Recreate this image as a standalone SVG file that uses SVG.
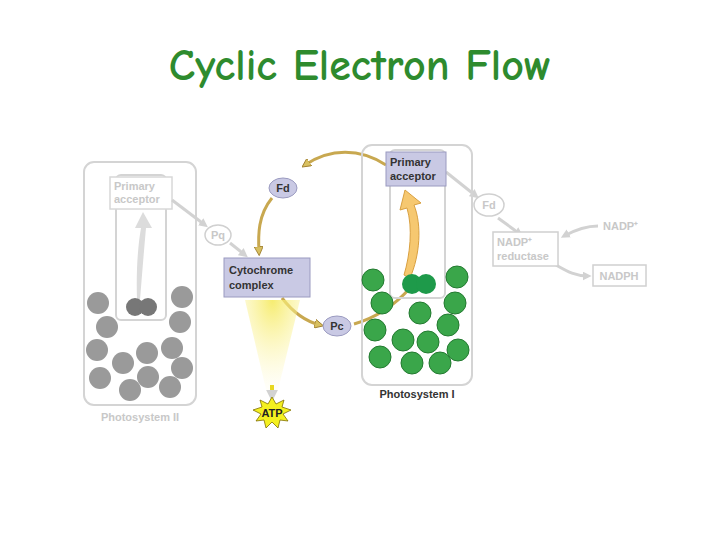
<svg xmlns="http://www.w3.org/2000/svg" width="720" height="540" viewBox="0 0 720 540">
<defs>
<style>
.t{font-family:"Liberation Sans",Arial,sans-serif;font-weight:bold;font-size:11px}
.g{fill:#c8c8c8}
.ps{fill:none;stroke:#d4d4d4;stroke-width:2}
.gc{fill:#9a9a9a}
.grn{fill:#3aa64a;stroke:#237a30;stroke-width:1}
.pb{fill:#c9c9e4;stroke:#9a9ac0}
.fb{fill:#fff;stroke:#d0d0d0;stroke-width:1.5}
.gold{fill:none;stroke:#c8a850;stroke-width:3}
.gl{fill:none;stroke:#d2d2d2;stroke-width:3}
</style>
<marker id="ga" viewBox="0 0 10 10" refX="6" refY="5" markerWidth="3" markerHeight="3" orient="auto"><path d="M0,0L10,5L0,10z" fill="#d8c060" stroke="#a08030"/></marker>
<marker id="gy" viewBox="0 0 10 10" refX="6" refY="5" markerWidth="3" markerHeight="3" orient="auto"><path d="M0,0L10,5L0,10z" fill="#d2d2d2"/></marker>
<radialGradient id="glow" cx="0.5" cy="0" r="1"><stop offset="0" stop-color="#f5ea60" stop-opacity="0.9"/><stop offset="1" stop-color="#fff8c0" stop-opacity="0"/></radialGradient>
</defs>
<rect width="720" height="540" fill="#fff"/>
<text x="360" y="80" text-anchor="middle" font-family="'Comic Neue','Comic Sans MS','Noto Sans',sans-serif" font-weight="bold" font-size="44" fill="#2e8b2e">Cyclic Electron Flow</text>

<g id="psii">
<rect class="ps" x="84" y="162" width="112" height="243" rx="10"/>
<rect class="ps" x="116" y="175" width="50" height="145" rx="5"/>
<rect x="110" y="177" width="62" height="32" fill="#fff" stroke="#d8d8d8" stroke-width="1.5"/>
<text class="t g" x="114" y="190">Primary</text><text class="t g" x="114" y="203">acceptor</text>
<path d="M137,300 C136,270 138,245 141,228 L135,228 L143,212 L152,228 L146,228 C144,250 142,275 140,300z" fill="#dcdcdc"/>
<g class="gc">
<circle cx="98" cy="303" r="11"/><circle cx="107" cy="327" r="11"/><circle cx="97" cy="350" r="11"/><circle cx="100" cy="378" r="11"/><circle cx="123" cy="363" r="11"/><circle cx="130" cy="390" r="11"/><circle cx="147" cy="353" r="11"/><circle cx="148" cy="377" r="11"/><circle cx="170" cy="387" r="11"/><circle cx="172" cy="348" r="11"/><circle cx="182" cy="368" r="11"/><circle cx="180" cy="322" r="11"/><circle cx="182" cy="297" r="11"/>
</g>
<circle cx="135" cy="307" r="9" fill="#777"/><circle cx="148" cy="307" r="9" fill="#777"/>
<text class="t g" x="140" y="421" text-anchor="middle">Photosystem II</text>
</g>

<g id="connectors">
<path class="gl" d="M172,200 L205,225" marker-end="url(#gy)"/>
<path class="gl" d="M230,243 L245,255" marker-end="url(#gy)"/>
<path class="gold" d="M386,165 C360,148 330,148 305,165" marker-end="url(#ga)"/>
<path class="gold" d="M272,198 C258,215 258,235 259,252" marker-end="url(#ga)"/>
<path class="gold" d="M282,298 C295,315 308,322 320,325" marker-end="url(#ga)"/>
<path class="gold" d="M354,324 C375,318 395,305 410,288"/>
<path class="gl" d="M446,172 L476,196" marker-end="url(#gy)"/>
<path class="gl" d="M498,218 L520,234" marker-end="url(#gy)"/>
<path class="gl" d="M598,226 C585,226 575,230 564,236" marker-end="url(#gy)"/>
<path class="gl" d="M556,265 C568,272 576,276 588,276" marker-end="url(#gy)"/>
</g>

<g id="atp">
<path d="M245,300 L300,300 L276,398 L268,398z" fill="url(#glow)"/>
<path d="M272,385 L272,397" stroke="#e8d820" stroke-width="4" marker-end="url(#gy)"/>
<polygon points="272,397 276,404 284,400 282,407 291,410 283,414 288,421 280,420 278,428 272,422 266,428 264,420 256,421 261,414 253,410 262,407 260,400 268,404" fill="#f4f020" stroke="#807000" stroke-width="0.8"/>
<text class="t" x="272" y="417" text-anchor="middle" font-size="10" fill="#222">ATP</text>
</g>

<g id="pq"><ellipse class="fb" cx="218" cy="235" rx="13" ry="10"/><text class="t g" x="218" y="239" text-anchor="middle" font-size="10">Pq</text></g>
<g id="fd1"><ellipse class="pb" cx="283" cy="188" rx="14" ry="10"/><text class="t" x="283" y="192" text-anchor="middle" font-size="10" fill="#333">Fd</text></g>
<g id="cyt"><rect class="pb" x="224" y="258" width="86" height="39"/><text class="t" x="229" y="274" fill="#333">Cytochrome</text><text class="t" x="229" y="289" fill="#333">complex</text></g>
<g id="pc"><ellipse class="pb" cx="337" cy="326" rx="14" ry="10"/><text class="t" x="337" y="330" text-anchor="middle" font-size="10" fill="#333">Pc</text></g>

<g id="psi">
<rect class="ps" x="362" y="145" width="110" height="240" rx="10"/>
<rect class="ps" x="390" y="150" width="55" height="148" rx="5"/>
<rect class="pb" x="386" y="152" width="60" height="34"/>
<text class="t" x="390" y="166" fill="#333">Primary</text><text class="t" x="390" y="180" fill="#333">acceptor</text>
<path d="M410,278 C420,255 422,225 414,205 L421,203 L405,190 L400,210 L407,208 C413,228 410,255 404,275z" fill="#f6c870" stroke="#d9a040" stroke-width="1"/>
<g class="grn">
<circle cx="373" cy="280" r="11"/><circle cx="382" cy="303" r="11"/><circle cx="375" cy="330" r="11"/><circle cx="380" cy="357" r="11"/><circle cx="403" cy="340" r="11"/><circle cx="412" cy="363" r="11"/><circle cx="420" cy="313" r="11"/><circle cx="428" cy="342" r="11"/><circle cx="440" cy="363" r="11"/><circle cx="448" cy="325" r="11"/><circle cx="458" cy="350" r="11"/><circle cx="455" cy="303" r="11"/><circle cx="457" cy="277" r="11"/>
</g>
<circle cx="412" cy="284" r="10" fill="#1e9a4a"/><circle cx="426" cy="284" r="10" fill="#1e9a4a"/>
<text class="t" x="417" y="398" text-anchor="middle" fill="#333">Photosystem I</text>
</g>

<g id="fd2"><ellipse class="fb" cx="489" cy="205" rx="15" ry="11"/><text class="t g" x="489" y="209" text-anchor="middle" font-size="10">Fd</text></g>
<g id="nadpred"><rect class="fb" x="493" y="232" width="65" height="34"/><text class="t g" x="497" y="246">NADP⁺</text><text class="t g" x="497" y="260">reductase</text></g>
<g id="nadp"><text class="t g" x="603" y="230">NADP⁺</text></g>
<g id="nadph"><rect class="fb" x="593" y="265" width="53" height="21"/><text class="t g" x="619" y="280" text-anchor="middle">NADPH</text></g>
</svg>
